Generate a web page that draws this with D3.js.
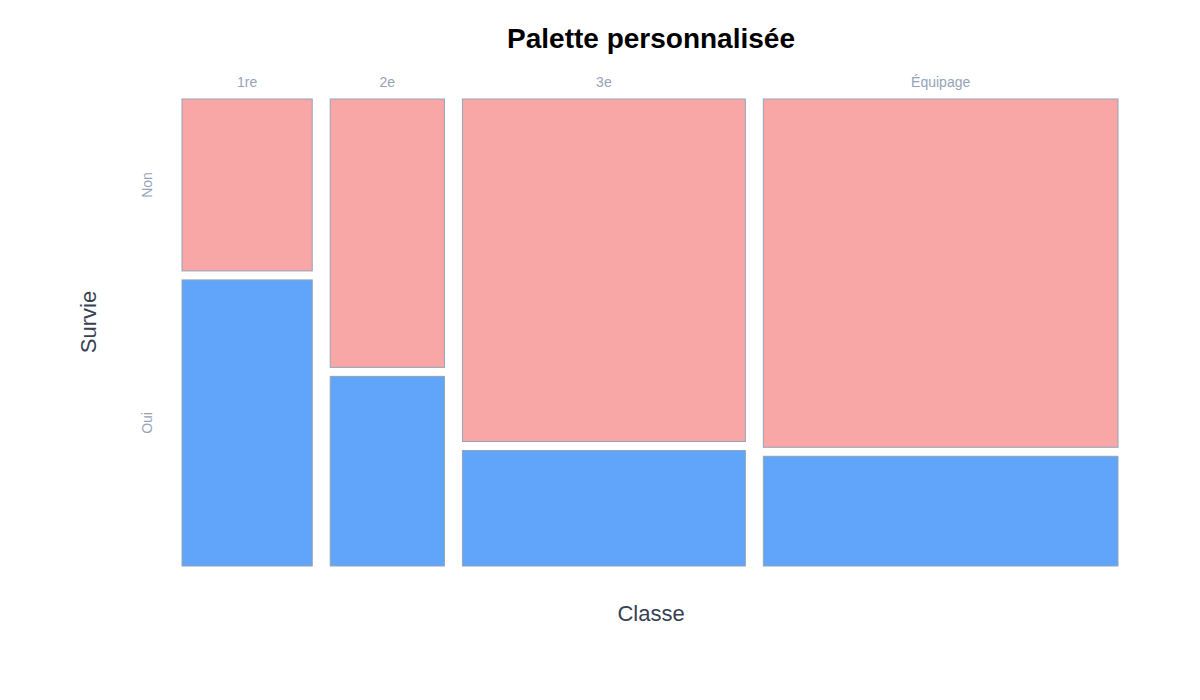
<!DOCTYPE html>
<html><head><meta charset="utf-8">
<script src="https://cdn.jsdelivr.net/npm/d3@7"></script>
<style>body{margin:0;background:#fff;font-family:"Helvetica Neue",Arial,"Liberation Sans",sans-serif}</style>
</head><body><svg id="c" width="1200" height="700"></svg>
<script>
const classes = ["1re","2e","3e","Équipage"];
const survivalLevels = ["Non","Oui"];
const countsNon = [122,167,528,673];
const countsOui = [203,118,178,212];
const colors = {"Non":"#f9a6a6","Oui":"#60a5fa"};

(function(){
const svg = d3.select("#c");
const L=182,R=1118,T=99,B=566,gapX=18,gapY=9;
const totals = classes.map((c,i)=>countsNon[i]+countsOui[i]);
const grand = d3.sum(totals);
const x = d3.scaleLinear().domain([0,grand]).range([0,R-L-gapX*(classes.length-1)]);
let cum=0;
const cols = classes.map((c,i)=>{const x0=L+x(cum)+i*gapX; cum+=totals[i]; return {c,i,x0,w:x(totals[i])};});

cols.forEach(col=>{
  const y = d3.scaleLinear().domain([0,totals[col.i]]).range([0,B-T-gapY]);
  const hN = y(countsNon[col.i]);
  const segs=[{k:"Non",y0:T,h:hN},{k:"Oui",y0:T+hN+gapY,h:B-(T+hN+gapY)}];
  segs.forEach(s=>{
    svg.append("rect").attr("x",col.x0).attr("y",s.y0).attr("width",col.w).attr("height",s.h)
      .attr("fill",colors[s.k]).attr("stroke","#94a3b8").attr("stroke-width",1);
  });
  svg.append("text").attr("x",col.x0+col.w/2).attr("y",87).attr("text-anchor","middle")
    .attr("font-size",14).attr("fill","#94a3b8").text(col.c);
  if(col.i===0){
    segs.forEach(s=>{
      const cy=s.y0+s.h/2;
      svg.append("text").attr("transform",`translate(152,${cy}) rotate(-90)`).attr("text-anchor","middle")
        .attr("font-size",14).attr("fill","#94a3b8").text(s.k);
    });
  }
});
svg.append("text").attr("x",651).attr("y",48).attr("text-anchor","middle").attr("font-size",28)
  .attr("font-weight","bold").attr("fill","#000").text("Palette personnalisée");
svg.append("text").attr("x",651).attr("y",621).attr("text-anchor","middle").attr("font-size",22)
  .attr("fill","#374151").text("Classe");
svg.append("text").attr("transform","translate(96,322) rotate(-90)").attr("text-anchor","middle")
  .attr("font-size",22).attr("fill","#374151").text("Survie");
})();
</script></body></html>
